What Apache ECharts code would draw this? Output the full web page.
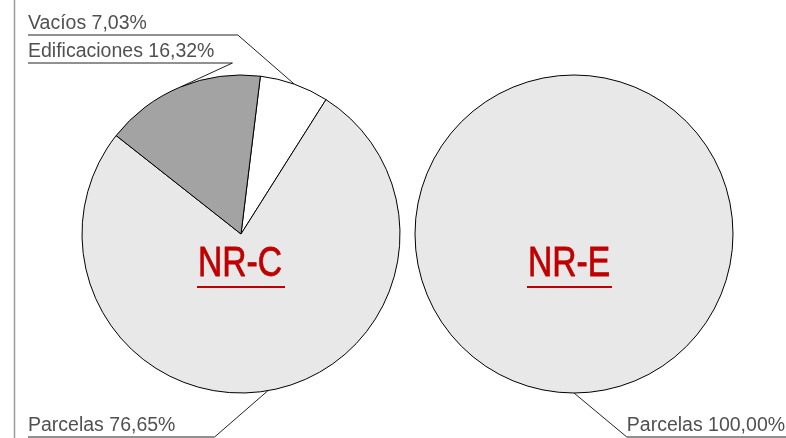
<!DOCTYPE html>
<html>
<head>
<meta charset="utf-8">
<title>NR-C / NR-E</title>
<script src="https://cdn.jsdelivr.net/npm/echarts@6/dist/echarts.min.js"></script>
<style>
  html, body { margin: 0; padding: 0; background: #fff; }
  #chart { width: 786px; height: 438px; }
</style>
</head>
<body>
<div id="chart"></div>
<script>
// datos (porcentajes)
const nrcNames = ['Vacíos', 'Parcelas', 'Edificaciones'];
const nrcValues = [7.03, 76.65, 16.32];
const nrcColors = ['#ffffff', '#e8e8e8', '#a3a3a3'];

const nreNames = ['Parcelas'];
const nreValues = [100];
const nreColors = ['#e8e8e8'];

const chartTitles = ['NR-C', 'NR-E'];

// altura de la línea bajo cada etiqueta (estilo)
const labelLineY = [
  [35, 437, 63],
  [437]
];

const chart = echarts.init(document.getElementById('chart'));
const W = 786;
const FONT = '"Liberation Sans", Arial, sans-serif';
const TITLE_FONT = '42px "Liberation Sans", Arial, sans-serif';

function fmt(p) {
  return p.name + ' ' + p.value.toFixed(2).replace('.', ',') + '%';
}

function toData(names, values, colors) {
  return names.map((n, i) => ({ name: n, value: values[i], itemStyle: { color: colors[i] } }));
}

// etiquetas subrayadas: la izquierda para NR-C, la derecha para NR-E
function layoutLabel(params) {
  const pts = params.labelLinePoints;
  if (!pts) return {};
  const y = labelLineY[params.seriesIndex][params.dataIndex];
  const p0 = pts[0];
  const dy = Math.abs(p0[1] - y);
  const tw = params.labelRect.width;
  if (params.seriesIndex === 0) {
    const left = 28;
    let elbow = p0[0] - 1.15 * dy;
    elbow = Math.max(elbow, left + tw + 18);
    return {
      x: left, y: y - 1, align: 'left', verticalAlign: 'bottom',
      labelLinePoints: [p0, [elbow, y], [left, y]]
    };
  }
  const elbow = p0[0] + 1.2 * dy;
  return {
    x: elbow, y: y - 1, align: 'left', verticalAlign: 'bottom',
    labelLinePoints: [p0, [elbow, y], [W, y]]
  };
}

const labelCfg = {
  show: true,
  position: 'outside',
  formatter: fmt,
  color: '#505050',
  fontFamily: FONT,
  fontSize: 19.5,
  padding: 0
};

const labelLineCfg = {
  show: true,
  length: 20,
  length2: 20,
  lineStyle: { color: '#222', width: 1 }
};

const titleStyle = (t) => ({
  text: t, fill: '#c00000', stroke: '#c00000', lineWidth: 0.8,
  font: TITLE_FONT, textAlign: 'center', textVerticalAlign: 'middle'
});

const option = {
  animation: false,
  backgroundColor: '#fff',
  graphic: [
    { type: 'line', shape: { x1: 14.5, y1: 0, x2: 14.5, y2: 438 }, style: { stroke: '#9a9a9a', lineWidth: 1.5 } },
    { type: 'text', x: 240, y: 264, z: 10, scaleX: 0.8, style: titleStyle(chartTitles[0]) },
    { type: 'rect', z: 10, shape: { x: 197, y: 286, width: 88, height: 2 }, style: { fill: '#c00000' } },
    { type: 'text', x: 569, y: 264, z: 10, scaleX: 0.8, style: titleStyle(chartTitles[1]) },
    { type: 'rect', z: 10, shape: { x: 527, y: 286, width: 85, height: 2 }, style: { fill: '#c00000' } }
  ],
  series: [
    {
      type: 'pie',
      center: [241, 234],
      radius: 159,
      startAngle: 83,
      clockwise: true,
      avoidLabelOverlap: false,
      itemStyle: { borderColor: '#000', borderWidth: 1 },
      label: labelCfg,
      labelLine: labelLineCfg,
      labelLayout: layoutLabel,
      emphasis: { disabled: true },
      data: toData(nrcNames, nrcValues, nrcColors)
    },
    {
      type: 'pie',
      center: [574, 234],
      radius: 159,
      startAngle: 90,
      clockwise: true,
      avoidLabelOverlap: false,
      itemStyle: { borderColor: '#000', borderWidth: 1 },
      label: labelCfg,
      labelLine: labelLineCfg,
      labelLayout: layoutLabel,
      emphasis: { disabled: true },
      data: toData(nreNames, nreValues, nreColors)
    }
  ]
};

chart.setOption(option);
</script>
</body>
</html>
